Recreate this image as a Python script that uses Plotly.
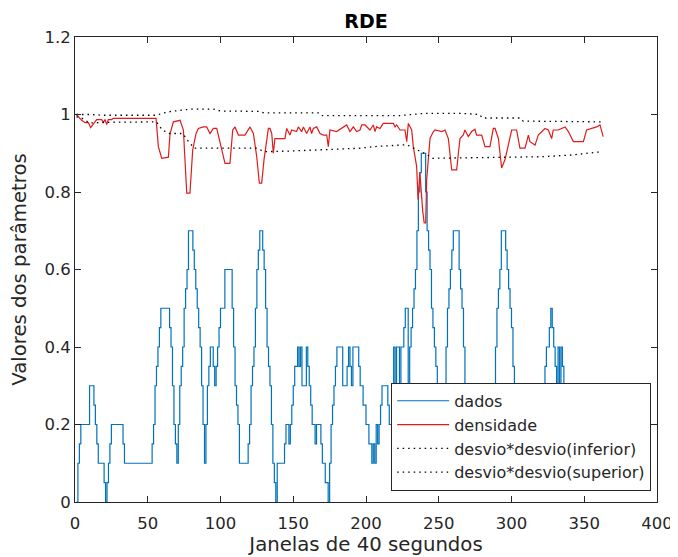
import plotly.graph_objects as go

# ---- data ----
dados = [
    0, 0.1, 0.15, 0.2, 0.2, 0.2, 0.2, 0.2, 0.2, 0.3,
    0.3, 0.3, 0.25, 0.2, 0.15, 0.1, 0.1, 0.1, 0.1, 0.05,
    0, 0.05, 0.1, 0.15, 0.2, 0.2, 0.2, 0.2, 0.2, 0.2,
    0.2, 0.2, 0.15, 0.1, 0.1, 0.1, 0.1, 0.1, 0.1, 0.1,
    0.1, 0.1, 0.1, 0.1, 0.1, 0.1, 0.1, 0.1, 0.1, 0.1,
    0.1, 0.1, 0.15, 0.2, 0.3, 0.35, 0.4, 0.45, 0.5, 0.5,
    0.5, 0.5, 0.5, 0.5, 0.45, 0.4, 0.3, 0.2, 0.15, 0.1,
    0.2, 0.3, 0.35, 0.4, 0.5, 0.55, 0.6, 0.7, 0.7, 0.7,
    0.65, 0.6, 0.55, 0.5, 0.45, 0.4, 0.3, 0.2, 0.1, 0.2,
    0.3, 0.35, 0.4, 0.4, 0.35, 0.3, 0.35, 0.4, 0.45, 0.5,
    0.5, 0.5, 0.6, 0.6, 0.6, 0.6, 0.6, 0.5, 0.4, 0.3,
    0.25, 0.2, 0.1, 0.1, 0.1, 0.1, 0.1, 0.1, 0.15, 0.2,
    0.3, 0.35, 0.4, 0.5, 0.6, 0.65, 0.7, 0.7, 0.65, 0.6,
    0.5, 0.4, 0.35, 0.3, 0.2, 0.1, 0.05, 0, 0.1, 0.1,
    0.1, 0.1, 0.1, 0.15, 0.2, 0.2, 0.15, 0.2, 0.25, 0.3,
    0.35, 0.35, 0.4, 0.35, 0.4, 0.3, 0.3, 0.3, 0.4, 0.35,
    0.3, 0.25, 0.2, 0.2, 0.15, 0.2, 0.2, 0.2, 0.15, 0.1,
    0.1, 0.05, 0.05, 0, 0.1, 0.2, 0.25, 0.3, 0.35, 0.4,
    0.4, 0.4, 0.4, 0.3, 0.3, 0.3, 0.35, 0.4, 0.35, 0.3,
    0.4, 0.4, 0.4, 0.4, 0.35, 0.3, 0.3, 0.25, 0.25, 0.2,
    0.2, 0.15, 0.15, 0.1, 0.15, 0.1, 0.2, 0.15, 0.2, 0.25,
    0.3, 0.3, 0.3, 0.3, 0.25, 0.2, 0.2, 0.3, 0.4, 0.3,
    0.4, 0.4, 0.3, 0.4, 0.4, 0.45, 0.5, 0.5, 0.3, 0.4,
    0.45, 0.5, 0.55, 0.6, 0.7, 0.8, 0.85, 0.9, 0.9, 0.9,
    0.8, 0.7, 0.65, 0.6, 0.5, 0.45, 0.4, 0.35, 0.3, 0.25,
    0.2, 0.2, 0.25, 0.3, 0.4, 0.5, 0.55, 0.6, 0.65, 0.7,
    0.7, 0.7, 0.7, 0.6, 0.55, 0.5, 0.4, 0.3, 0.2, 0.1,
    0.2, 0.3, 0.3, 0.3, 0.2, 0.1, 0.1, 0.1, 0.1, 0.1,
    0.1, 0.1, 0.1, 0.1, 0.1, 0.15, 0.25, 0.3, 0.4, 0.5,
    0.55, 0.6, 0.7, 0.7, 0.7, 0.65, 0.6, 0.55, 0.5, 0.45,
    0.35, 0.3, 0.25, 0.2, 0.1, 0.1, 0.1, 0.1, 0.1, 0.1,
    0.1, 0.1, 0.1, 0.1, 0.1, 0.1, 0.1, 0.2, 0.25, 0.3,
    0.3, 0.3, 0.35, 0.4, 0.4, 0.45, 0.5, 0.45, 0.4, 0.35,
    0.3, 0.4, 0.3, 0.4, 0.35, 0.3, 0.3, 0.25, 0.2, 0.15,
    0.1, 0.1, 0.1, 0.1, 0.1, 0.1, 0.1, 0.1, 0.1, 0.1,
    0.1, 0.1, 0.1, 0.1, 0.2, 0.3, 0.3, 0.3, 0.3, 0.3,
    0.2, 0.1,
]
dados_x = list(range(1, len(dados) + 1))

dens_x = [1, 4.6, 6.9, 9.2, 10.8, 12.6, 14.9, 18.3, 19.5, 20.6, 21.8, 22.9, 25.2, 26.3,
          55.7, 57.3, 59.6, 64.2, 65.3, 67.6, 72.2, 74.5, 76.8, 79.0, 80.9, 83.2, 84.8,
          88.2, 90.5, 92.8, 95.1, 97.4, 100.1, 103.1, 106.5, 108.4, 110, 112.3, 116.8,
          120.3, 122.6, 124.9, 126.7, 128.3, 129.9, 132.9, 134, 135.2, 136.3, 137.4,
          144.3, 145.5, 147.7, 148.9, 152.3, 153.5, 155.8, 157, 159.2, 161.5, 162.6,
          163.8, 166.1, 168.4, 170.7, 173, 174.1, 175.2, 179.8, 184.4, 186.7, 189,
          191.3, 193.6, 195.9, 197, 199.3, 202.7, 205, 206.2, 207.3, 209.6, 211.9,
          218.8, 220, 221.1, 223.4, 226.8, 228, 229.1, 231.4, 232.5, 234.8, 235.8,
          237, 239, 240, 241, 241.7, 244, 246.3, 247.5, 252.1, 254.3, 256.6, 258.9,
          262.3, 263.5, 264.6, 266.9, 268, 270.3, 272.6, 274.9, 276, 279.5, 281.8,
          285.2, 287.5, 288.7, 291, 293.2, 295.5, 297.8, 300.1, 303.5, 305.8, 309.3,
          311.6, 312.7, 316.2, 318.4, 320.7, 323, 325.3, 327.6, 328.7, 332.2, 336.8,
          339.1, 342.5, 349.4, 351.6, 358.5, 360.8, 363]
densidade = [1.0, 0.985, 0.979, 0.979, 0.966, 0.974, 0.987, 0.987, 0.979, 0.987, 0.974, 0.987, 0.987, 0.99,
             0.99, 0.917, 0.887, 0.89, 0.95, 0.981, 0.985, 0.96, 0.797, 0.797, 0.909, 0.951, 0.964,
             0.968, 0.968, 0.951, 0.964, 0.964, 0.917, 0.874, 0.874, 0.96, 0.968, 0.947, 0.947,
             0.968, 0.951, 0.891, 0.823, 0.823, 0.883, 0.964, 0.964, 0.951, 0.9, 0.938,
             0.938, 0.964, 0.947, 0.96, 0.956, 0.968, 0.956, 0.968, 0.951, 0.968, 0.951,
             0.964, 0.968, 0.951, 0.947, 0.947, 0.917, 0.96, 0.956, 0.968, 0.973, 0.956,
             0.968, 0.956, 0.96, 0.973, 0.973, 0.96, 0.973, 0.956, 0.968, 0.964, 0.977,
             0.977, 0.968, 0.973, 0.96, 0.96, 0.93, 0.977, 0.96, 0.917, 0.866, 0.78,
             0.85, 0.75, 0.72, 0.72, 0.832, 0.938, 0.956, 0.96, 0.956, 0.96, 0.938, 0.857,
             0.857, 0.9, 0.938, 0.947, 0.96, 0.943, 0.956, 0.962, 0.947, 0.947, 0.917,
             0.917, 0.964, 0.964, 0.938, 0.862, 0.883, 0.921, 0.96, 0.96, 0.913, 0.913,
             0.947, 0.93, 0.921, 0.947, 0.956, 0.964, 0.96, 0.938, 0.96, 0.96, 0.968,
             0.956, 0.93, 0.93, 0.96, 0.968, 0.973, 0.943]

sup_x = [1, 10, 20, 56, 60, 66, 80, 95, 100, 127, 130, 168, 170, 223, 240, 265, 278, 280, 306, 308, 362]
superior = [1.0, 1.0, 0.998, 0.998, 1.003, 1.008, 1.014, 1.014, 1.009, 1.008, 1.004, 1.004, 0.997,
            0.997, 1.003, 1.003, 1.0, 0.991, 0.991, 0.983, 0.981]

inf_x = [1, 5, 10, 25, 56, 60, 65, 74, 77, 82, 125, 130, 150, 175, 196, 205, 219, 228, 240, 246,
         265, 320, 340, 362]
inferior = [0.994, 0.99, 0.978, 0.98, 0.981, 0.96, 0.951, 0.951, 0.935, 0.913, 0.913, 0.904, 0.906,
            0.91, 0.913, 0.917, 0.921, 0.922, 0.9, 0.887, 0.888, 0.891, 0.895, 0.904]

x_ticks = [0, 50, 100, 150, 200, 250, 300, 350, 400]
y_ticks = [0, 0.2, 0.4, 0.6, 0.8, 1.0, 1.2]
y_ticktext = ["0", "0.2", "0.4", "0.6", "0.8", "1", "1.2"]

FONT = "DejaVu Sans"
AX = "#262626"
DOT = "1.5px,4px"

fig = go.Figure()
fig.add_trace(go.Scatter(x=dados_x, y=dados, mode="lines", name="dados",
                         line=dict(color="#0072BD", width=1.2, shape="hv")))
fig.add_trace(go.Scatter(x=dens_x, y=densidade, mode="lines", name="densidade",
                         line=dict(color="#E01B1B", width=1.2)))
fig.add_trace(go.Scatter(x=inf_x, y=inferior, mode="lines", name="desvio*desvio(inferior)",
                         line=dict(color="black", width=1.3, dash=DOT)))
fig.add_trace(go.Scatter(x=sup_x, y=superior, mode="lines", name="desvio*desvio(superior)",
                         line=dict(color="black", width=1.3, dash=DOT)))

axis_common = dict(showgrid=False, zeroline=False, showline=True, linecolor=AX, linewidth=1,
                   mirror="ticks", ticks="inside", ticklen=6, tickcolor=AX, automargin=False,
                   tickfont=dict(family=FONT, size=16.5, color=AX))

# the page adds an 8 px body margin, so the figure is drawn 8 px smaller and offset
fig.update_layout(
    width=670, height=549,
    margin=dict(l=67, r=21, t=29, b=55),
    paper_bgcolor="white", plot_bgcolor="white",
    font=dict(family=FONT, color=AX),
    title=dict(text="<b>RDE</b>", x=0.5, xref="paper", xanchor="center",
               y=1, yref="paper", yanchor="bottom", pad=dict(b=9),
               font=dict(family=FONT, size=19, color="black")),
    xaxis=dict(range=[0, 400], tickvals=x_ticks, ticklabelstandoff=6,
               title=dict(text="Janelas de 40 segundos", font=dict(family=FONT, size=19.7, color=AX), standoff=2),
               **axis_common),
    yaxis=dict(range=[0, 1.2], tickvals=y_ticks, ticktext=y_ticktext,
               title=dict(text="Valores dos parâmetros", font=dict(family=FONT, size=19.7, color=AX), standoff=13),
               **axis_common),
    legend=dict(x=0.99, y=0.024, xanchor="right", yanchor="bottom",
                bgcolor="white", bordercolor=AX, borderwidth=1,
                font=dict(family=FONT, size=16, color=AX),
                itemwidth=52, tracegroupgap=0),
    showlegend=True,
)

fig.write_html("out.html")
